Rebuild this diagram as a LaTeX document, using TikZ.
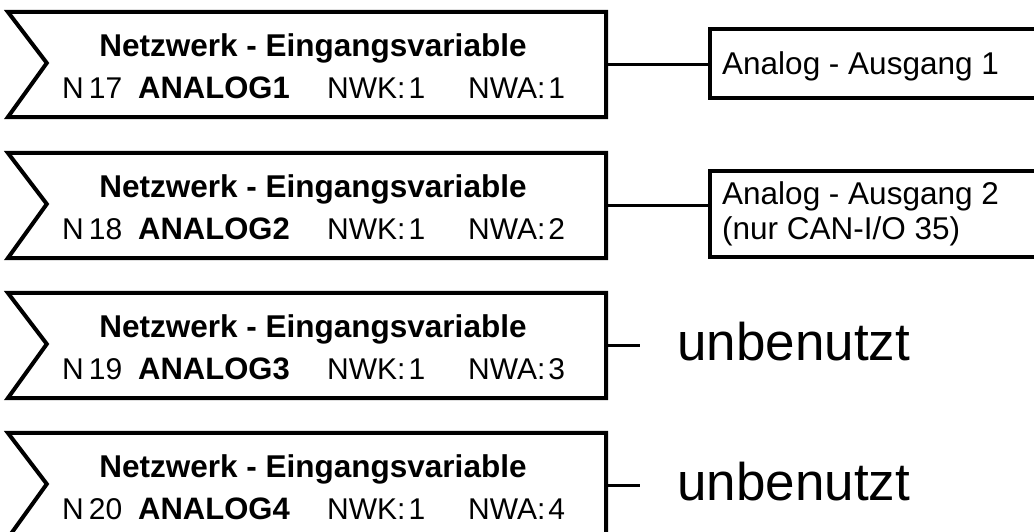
\documentclass[tikz,border=0pt]{standalone}
\usepackage{fontspec}
\setmainfont{Liberation Sans}
\usetikzlibrary{calc}
\begin{document}
\begin{tikzpicture}[x=1pt,y=-1pt,
  blk/.style={minimum width=598pt, minimum height=105pt, inner sep=0pt, draw=none},
  outline/.style={line width=4pt, line join=miter},
  conn/.style={line width=3pt},
  obox/.style={draw, line width=4pt, inner sep=0pt, minimum width=335pt},
  hdr/.style={font=\fontsize{31.5}{31.5}\selectfont\bfseries, anchor=base, inner sep=0pt},
  txt/.style={font=\fontsize{30}{30}\selectfont, anchor=base west, inner sep=0pt},
  btxt/.style={font=\fontsize{31}{31}\selectfont\bfseries, anchor=base west, inner sep=0pt},
  otxt/.style={font=\fontsize{31.5}{31.5}\selectfont, anchor=base west, inner sep=0pt},
  big/.style={font=\fontsize{53}{53}\selectfont, anchor=base west, inner sep=0pt}
]
\useasboundingbox (0,0) rectangle (1034,531);
\clip (0,0) rectangle (1034,531);
\foreach \i/\t/\n in {1/12/17, 2/153/18, 3/293/19, 4/433/20} {
  \node[blk] (b\i) at (307,\t+52.5) {};
  \draw[outline] (b\i.north west) -- (b\i.north east) -- (b\i.south east) -- (b\i.south west) -- ($(b\i.west)+(39,-1.5)$) -- cycle;
  \node[hdr] (h\i) at (313,\t+44) {Netzwerk - Eingangsvariable};
  \node[txt] (n\i) at (62,\t+86) {N\kern5pt\n};
  \node[btxt] (a\i) at (138,\t+86) {ANALOG\i};
  \node[txt] (k\i) at (327,\t+86) {NWK:\kern3pt1};
  \node[txt] (w\i) at (468,\t+86) {NWA:\kern3pt\i};
}
% output boxes
\node[obox, minimum height=69pt] (o1) at (877.5,63.5) {};
\node[otxt] (o1t) at (722,74) {Analog - Ausgang 1};
\node[obox, minimum height=86pt] (o2) at (877.5,214) {};
\node[otxt] (o2a) at (722,204) {Analog - Ausgang 2};
\node[otxt] (o2b) at (722,239) {(nur CAN-I/O 35)};
\draw[conn] (b1.east) -- (b1.east -| o1.west);
\draw[conn] (b2.east) -- (b2.east -| o2.west);
% unused
\coordinate (s3) at (640,345.5);
\coordinate (s4) at (640,485.5);
\draw[conn] (b3.east) -- (s3);
\draw[conn] (b4.east) -- (s4);
\node[big] (u3) at (677,360) {unbenutzt};
\node[big] (u4) at (677,500) {unbenutzt};
\end{tikzpicture}
\end{document}
